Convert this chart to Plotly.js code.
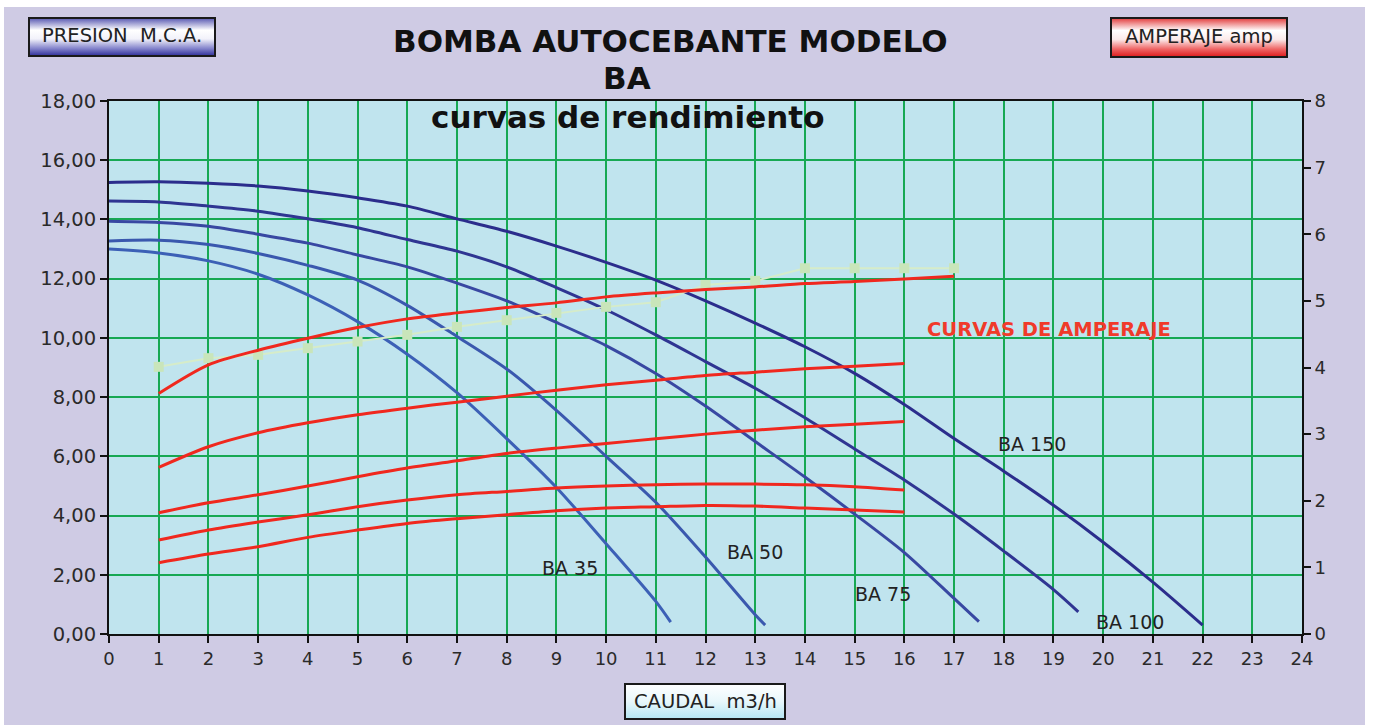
<!DOCTYPE html>
<html>
<head>
<meta charset="utf-8">
<script src="https://cdn.plot.ly/plotly-3.0.1.min.js"></script>
<style>
html,body{margin:0;padding:0;background:#ffffff;}
#chart{position:absolute;left:4px;top:7px;width:1361px;height:718px;}
</style>
</head>
<body>
<div id="chart"></div>
<script>
// ---- Data ----
const caudalBA35  = [0,1,2,3,4,5,6,7,8,9,10,11,11.3];
const presionBA35 = [13.0,12.87,12.6,12.15,11.45,10.55,9.45,8.15,6.6,4.95,3.05,1.1,0.4];

const caudalBA50  = [0,1,2,3,4,5,6,7,8,9,10,11,12,13,13.2];
const presionBA50 = [13.27,13.3,13.15,12.85,12.45,11.95,11.1,10.05,8.95,7.55,6.0,4.45,2.6,0.65,0.3];

const caudalBA75  = [0,1,2,3,4,5,6,7,8,9,10,11,12,13,14,15,16,17,17.5];
const presionBA75 = [13.94,13.9,13.77,13.5,13.2,12.8,12.4,11.85,11.25,10.52,9.74,8.8,7.7,6.5,5.3,4.05,2.75,1.2,0.42];

const caudalBA100  = [0,1,2,3,4,5,6,7,8,9,10,11,12,13,14,15,16,17,18,19,19.5];
const presionBA100 = [14.62,14.59,14.45,14.28,14.02,13.72,13.32,12.93,12.4,11.7,10.95,10.1,9.2,8.3,7.3,6.25,5.2,4.05,2.8,1.5,0.75];

const caudalBA150  = [0,1,2,3,4,5,6,7,8,9,10,11,12,13,14,15,16,17,18,19,20,21,22];
const presionBA150 = [15.25,15.27,15.22,15.13,14.96,14.73,14.45,14.02,13.6,13.1,12.55,11.95,11.25,10.5,9.7,8.8,7.75,6.6,5.5,4.35,3.1,1.75,0.3];

const caudalAmp1 = [1,2,3,4,5,6,7,8,9,10,11,12,13,14,15,16,17];
const amp1       = [3.61,4.04,4.26,4.44,4.6,4.73,4.82,4.9,4.97,5.06,5.12,5.17,5.21,5.26,5.29,5.33,5.37];
const caudalAmp  = [1,2,3,4,5,6,7,8,9,10,11,12,13,14,15,16];
const amp2       = [2.5,2.81,3.02,3.17,3.29,3.39,3.48,3.57,3.66,3.74,3.81,3.88,3.93,3.98,4.02,4.06];
const amp3       = [1.82,1.97,2.09,2.22,2.36,2.49,2.6,2.71,2.79,2.86,2.93,3.0,3.06,3.11,3.15,3.19];
const amp4       = [1.41,1.56,1.68,1.79,1.91,2.01,2.09,2.14,2.19,2.22,2.24,2.25,2.25,2.24,2.21,2.16];
const amp5       = [1.07,1.2,1.31,1.45,1.56,1.66,1.73,1.79,1.85,1.89,1.91,1.93,1.92,1.89,1.86,1.83];

const caudalMarc = [1,2,3,4,5,6,7,8,9,10,11,12,13,14,15,16,17];
const ampMarc    = [4.01,4.14,4.19,4.29,4.39,4.49,4.61,4.71,4.82,4.91,4.98,5.24,5.30,5.49,5.49,5.49,5.49];

const xTicks  = [0,1,2,3,4,5,6,7,8,9,10,11,12,13,14,15,16,17,18,19,20,21,22,23,24];
const yTicks  = [0,2,4,6,8,10,12,14,16,18];
const y2Ticks = [0,1,2,3,4,5,6,7,8];

const curveLabels = ["BA 35","BA 50","BA 75","BA 100","BA 150"];

// ---- Styling ----
const FONT = "DejaVu Sans, Liberation Sans, Arial, sans-serif";
const blueCols = ['#3c60b6','#3a58ae','#3848a2','#2f3592','#2b2d8c'];
const RED = '#f0281e';

function blue(x,y,c){
  return {x:x,y:y,type:'scatter',mode:'lines',line:{color:c,width:3,shape:'spline',smoothing:0.8},hoverinfo:'skip',showlegend:false};
}
function red(x,y){
  return {x:x,y:y,yaxis:'y2',type:'scatter',mode:'lines',line:{color:RED,width:3,shape:'spline',smoothing:0.8},hoverinfo:'skip',showlegend:false};
}
const traces = [
  {x:caudalMarc,y:ampMarc,yaxis:'y2',type:'scatter',mode:'lines+markers',line:{color:'#d6ecc9',width:2},
   marker:{symbol:'square',size:10,color:'#c9e5ba'},hoverinfo:'skip',showlegend:false},
  red(caudalAmp1,amp1), red(caudalAmp,amp2), red(caudalAmp,amp3), red(caudalAmp,amp4), red(caudalAmp,amp5),
  blue(caudalBA35,presionBA35,blueCols[0]),
  blue(caudalBA50,presionBA50,blueCols[1]),
  blue(caudalBA75,presionBA75,blueCols[2]),
  blue(caudalBA100,presionBA100,blueCols[3]),
  blue(caudalBA150,presionBA150,blueCols[4])
];

// geometry helpers: reference-image pixel -> paper coords
const PL=109, PT=101, PW=1193, PH=533;
const px = m => (m-PL)/PW;
const py = m => (PT+PH-m)/PH;

function gradBox(x0,y0,x1,y1,stops){
  const w=x1-x0, h=y1-y0;
  let s='';
  stops.forEach(st=>{ s+="<stop offset='"+st[0]+"' stop-color='"+st[1]+"'/>"; });
  const svg="<svg xmlns='http://www.w3.org/2000/svg' width='"+w+"' height='"+h+"' viewBox='0 0 "+w+" "+h+"' preserveAspectRatio='none'>"+
    "<defs><linearGradient id='g' x1='0' y1='0' x2='0' y2='1'>"+s+"</linearGradient></defs>"+
    "<rect x='1' y='1' width='"+(w-2)+"' height='"+(h-2)+"' fill='url(#g)' stroke='#1a1a1a' stroke-width='2'/></svg>";
  return {source:'data:image/svg+xml;charset=utf-8,'+encodeURIComponent(svg),
    xref:'paper',yref:'paper',x:px(x0),y:py(y0),sizex:w/PW,sizey:h/PH,
    xanchor:'left',yanchor:'top',sizing:'stretch',layer:'above'};
}

const images = [
  gradBox(28,17,216,57,[[0,'#5656b0'],[0.32,'#ffffff'],[0.55,'#f2f2fa'],[0.8,'#8585cc'],[1,'#2d2d98']]),
  gradBox(1110,17,1288,58,[[0,'#e23a3a'],[0.32,'#ffffff'],[0.55,'#fbeaea'],[0.8,'#ef6464'],[1,'#de1a1a']]),
  gradBox(624,683,786,720,[[0,'#ffffff'],[0.5,'#e8f7fb'],[1,'#b4e6f2']])
];

function txt(t,mx,my,size,opts){
  return Object.assign({text:t,xref:'paper',yref:'paper',x:px(mx),y:py(my),xanchor:'center',yanchor:'middle',
    showarrow:false,font:{family:FONT,size:size,color:'#111'}},opts||{});
}
function dtxt(t,x,y,size,opts){
  return Object.assign({text:t,xref:'x',yref:'y',x:x,y:y,xanchor:'center',yanchor:'middle',
    showarrow:false,font:{family:FONT,size:size,color:'#222'}},opts||{});
}

const annotations = [
  txt('<b>BOMBA AUTOCEBANTE MODELO</b>',670,41,31),
  txt('<b>BA</b>',627,78,31),
  txt('<b>curvas de rendimiento</b>',627,117,31),
  txt('PRESION\u00a0 M.C.A.',122,36,19.5,{font:{family:FONT,size:19.5,color:'#222'}}),
  txt('AMPERAJE amp',1199,37,19.5,{font:{family:FONT,size:19.5,color:'#222'}}),
  txt('CAUDAL\u00a0 m3/h',705,701,19.5,{font:{family:FONT,size:19.5,color:'#222'}}),
  dtxt('<b>CURVAS DE AMPERAJE</b>',18.91,10.3,19.5,{font:{family:FONT,size:19.5,color:'#f03a2a'}}),
  dtxt(curveLabels[0],9.28,2.23,19),
  dtxt(curveLabels[1],13.0,2.77,19),
  dtxt(curveLabels[2],15.57,1.35,19),
  dtxt(curveLabels[3],20.54,0.4,19),
  dtxt(curveLabels[4],18.57,6.42,19)
];

const layout = {
  width:1361, height:718,
  margin:{l:105,r:63,t:94,b:91,pad:0},
  paper_bgcolor:'#cfcbe4',
  plot_bgcolor:'#c0e4ee',
  showlegend:false,
  xaxis:{range:[0,24],autorange:false,tickvals:xTicks,ticktext:xTicks.map(String),
    showgrid:true,gridcolor:'#17a853',gridwidth:2,zeroline:false,
    showline:true,linecolor:'#111',linewidth:2,mirror:true,
    ticks:'outside',ticklen:7,tickwidth:2,tickcolor:'#111',
    tickfont:{family:FONT,size:18,color:'#2a2a2a'}},
  yaxis:{range:[0,18],autorange:false,tickvals:yTicks,ticktext:yTicks.map(v=>v.toFixed(2).replace('.',',')),
    showgrid:true,gridcolor:'#17a853',gridwidth:2,zeroline:false,
    showline:true,linecolor:'#111',linewidth:2,
    ticks:'outside',ticklen:7,tickwidth:2,tickcolor:'#111',
    tickfont:{family:FONT,size:19.5,color:'#2a2a2a'}},
  yaxis2:{range:[0,8],autorange:false,overlaying:'y',side:'right',tickvals:y2Ticks,ticktext:y2Ticks.map(String),
    showgrid:false,zeroline:false,showline:true,linecolor:'#111',linewidth:2,
    ticks:'outside',ticklen:7,tickwidth:2,tickcolor:'#111',
    tickfont:{family:FONT,size:18,color:'#2a2a2a'}},
  images:images,
  annotations:annotations
};

Plotly.newPlot('chart',traces,layout,{displayModeBar:false,staticPlot:true});
</script>
</body>
</html>
